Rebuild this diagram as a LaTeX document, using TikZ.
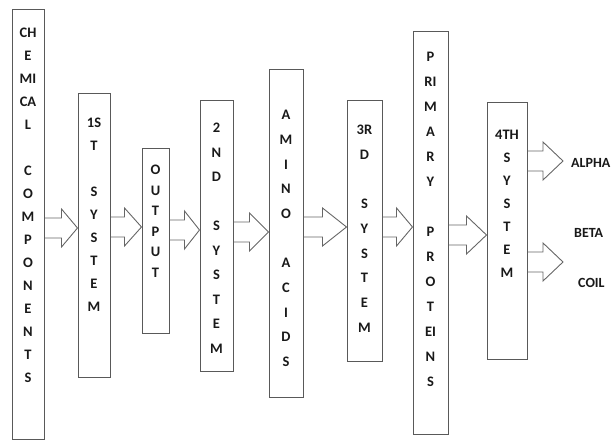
\documentclass[tikz,border=0pt]{standalone}
\usepackage{fontspec}
\newfontfamily\diagfont{Carlito}
\usetikzlibrary{calc, positioning}

\tikzset{
  stage/.style={draw=black!65, line width=1pt, rectangle, inner sep=0pt},
  letters/.style={font=\diagfont\bfseries\fontsize{14.5}{#1}\selectfont, text=black!90, align=center, anchor=north, inner sep=0pt},
  letters/.default=24,
  outtext/.style={font=\diagfont\bfseries\fontsize{14}{17}\selectfont, text=black!90, anchor=west, inner xsep=12pt, inner ysep=0pt},
  arrowline/.style={draw=black!60, line width=0.9pt, line join=miter},
}

% hollow block arrow: from node, to node, height y, head length
\newcommand{\blockarrow}[4]{%
  \draw[arrowline] ($(#1.east |- 0,#3)+(0,-10)$) -- ($(#2.west |- 0,#3)+(-#4,-10)$)
    -- ($(#2.west |- 0,#3)+(-#4,-19)$) -- (#2.west |- 0,#3)
    -- ($(#2.west |- 0,#3)+(-#4,19)$) -- ($(#2.west |- 0,#3)+(-#4,10)$)
    -- ($(#1.east |- 0,#3)+(0,10)$);
}

\begin{document}
\begin{tikzpicture}[x=1pt, y=-1pt]
    \useasboundingbox (0,0) rectangle (611,443);

    % stages
    \node[stage, minimum width=32pt, minimum height=430pt] (chem) at (28,225) {};
    \node[stage, minimum width=32pt, minimum height=284pt] (sys1) at (94,236) {};
    \node[stage, minimum width=27pt, minimum height=185pt] (output) at (155.5,241.5) {};
    \node[stage, minimum width=33pt, minimum height=271pt] (sys2) at (216.5,236.5) {};
    \node[stage, minimum width=34pt, minimum height=328pt] (amino) at (286,234) {};
    \node[stage, minimum width=35pt, minimum height=261pt] (sys3) at (364.5,231.5) {};
    \node[stage, minimum width=35pt, minimum height=403pt] (primary) at (430.5,233.5) {};
    \node[stage, minimum width=40pt, minimum height=257pt] (sys4) at (507,231.5) {};

    % stacked letters
    \node[letters=23, below=18.5pt of chem.north] (chemtext) {CH\\E\\MI\\CA\\L\\~\\C\\O\\M\\P\\O\\N\\E\\N\\T\\S};
    \node[letters=23, below=24.5pt of sys1.north] (sys1text) {1S\\T\\~\\S\\Y\\S\\T\\E\\M};
    \node[letters=20.5, below=16.5pt of output.north] (outputtext) {O\\U\\T\\P\\U\\T};
    \node[letters=24.5, below=22.5pt of sys2.north] (sys2text) {2\\N\\D\\~\\S\\Y\\S\\T\\E\\M};
    \node[letters=24.7, below=40.5pt of amino.north] (aminotext) {A\\M\\I\\N\\O\\~\\A\\C\\I\\D\\S};
    \node[letters=24.7, below=24.5pt of sys3.north] (sys3text) {3R\\D\\~\\S\\Y\\S\\T\\E\\M};
    \node[letters=25, below=20.5pt of primary.north] (primarytext) {P\\RI\\M\\A\\R\\Y\\~\\P\\R\\O\\T\\EI\\N\\S};
    \node[letters=23, below=27.5pt of sys4.north] (sys4text) {4TH\\S\\Y\\S\\T\\E\\M};

    % outcomes
    \node[outtext, inner xsep=8pt] (alpha) at (563,163) {ALPHA};
    \node[outtext] (beta) at (562,233) {BETA};
    \node[outtext, inner xsep=15pt] (coil) at (563,283) {COIL};

    % arrows
    \blockarrow{chem}{sys1}{228}{16}
    \blockarrow{sys1}{output}{227}{17}
    \blockarrow{output}{sys2}{230}{15}
    \blockarrow{sys2}{amino}{232}{19}
    \blockarrow{amino}{sys3}{227}{24}
    \blockarrow{sys3}{primary}{227}{16}
    \blockarrow{primary}{sys4}{235}{20}
    \blockarrow{sys4}{alpha}{161}{20}
    \blockarrow{sys4}{coil}{262}{20}
\end{tikzpicture}
\end{document}
